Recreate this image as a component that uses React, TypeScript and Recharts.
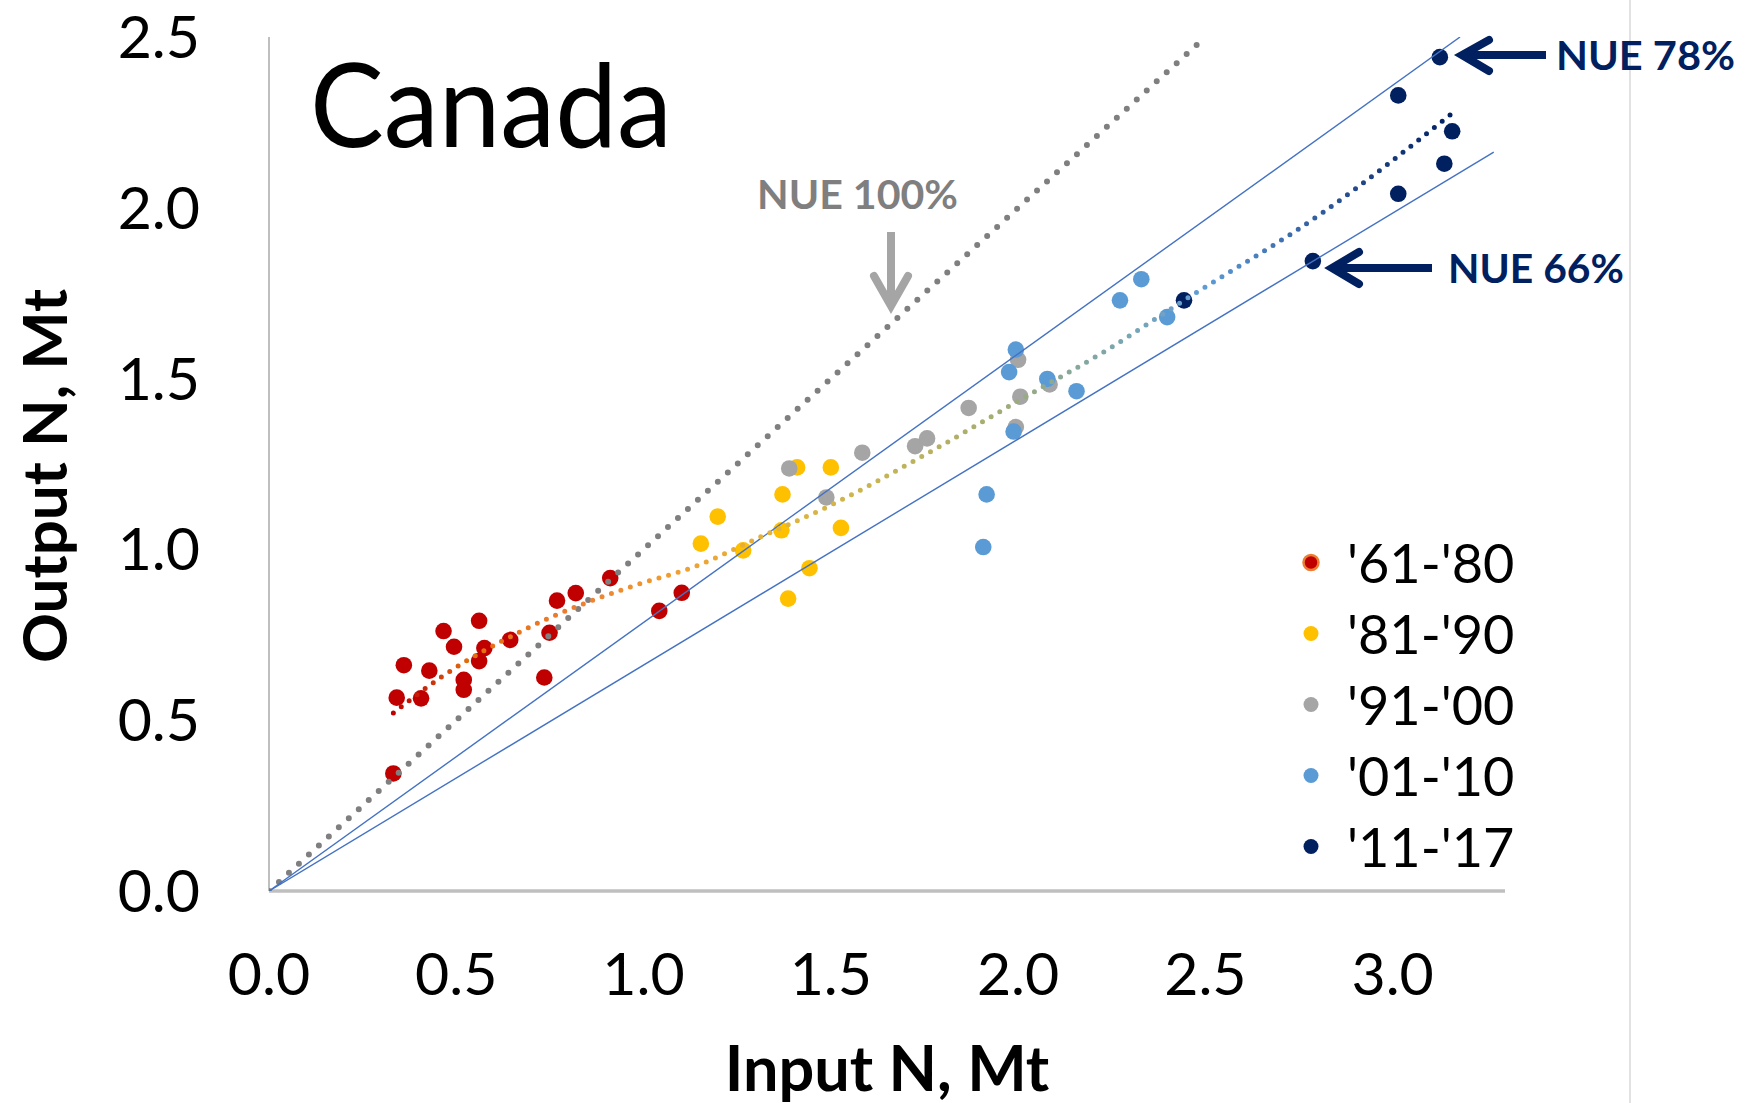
import React from 'react';
import { ScatterChart, Scatter, XAxis, YAxis, Legend, Label } from 'recharts';

// ---- axis ticks ----
const xTicks = [0, 0.5, 1, 1.5, 2, 2.5, 3];
const yTicks = [0, 0.5, 1, 1.5, 2, 2.5];

// ---- periods ----
const periodNames = ["'61-'80", "'81-'90", "'91-'00", "'01-'10", "'11-'17"];
const periodColors = ['#C00000', '#FFC000', '#A5A5A5', '#5B9BD5', '#002060'];

// ---- Input N (Mt) / Output N (Mt) per period ----
const input6180 = [0.332, 0.341, 0.360, 0.406, 0.428, 0.466, 0.494, 0.520, 0.520, 0.561, 0.561, 0.575, 0.644, 0.735, 0.749, 0.769, 0.819, 0.911, 1.042, 1.102];
const output6180 = [0.344, 0.566, 0.661, 0.564, 0.645, 0.761, 0.715, 0.618, 0.589, 0.791, 0.673, 0.711, 0.735, 0.625, 0.756, 0.850, 0.872, 0.916, 0.820, 0.873];

const input8190 = [1.153, 1.198, 1.266, 1.371, 1.368, 1.386, 1.410, 1.443, 1.500, 1.527];
const output8190 = [1.017, 1.096, 0.997, 1.161, 1.056, 0.856, 1.240, 0.945, 1.240, 1.063];

const input9100 = [1.389, 1.488, 1.584, 1.725, 1.757, 1.868, 2.000, 2.006, 1.994, 2.084];
const output9100 = [1.237, 1.152, 1.283, 1.302, 1.325, 1.414, 1.555, 1.447, 1.358, 1.483];

const input0110 = [1.916, 1.907, 1.976, 1.994, 1.988, 2.078, 2.156, 2.272, 2.329, 2.398];
const output0110 = [1.161, 1.007, 1.519, 1.585, 1.345, 1.499, 1.463, 1.729, 1.791, 1.680];

const input1117 = [2.443, 2.787, 3.015, 3.138, 3.159, 3.015, 3.126];
const output1117 = [1.729, 1.844, 2.041, 2.129, 2.224, 2.329, 2.441];

// ---- trend line ----
const trendInput = [0.332, 0.461, 0.689, 0.980, 1.135, 1.313, 1.482, 1.758, 2.004, 2.236, 2.443, 2.816, 3.159];
const trendOutput = [0.521, 0.627, 0.769, 0.896, 0.949, 1.037, 1.120, 1.281, 1.437, 1.583, 1.729, 1.988, 2.277];

// ---- NUE reference lines ----
const nue100Input = [0, 2.5];
const nue100Output = [0, 2.5];
const nue78Input = [0, 3.18];
const nue78Output = [0, 2.5];
const nue66Input = [0, 3.27];
const nue66Output = [0, 2.163];

const zip = (xs: number[], ys: number[]) => xs.map((x, i) => ({ x, y: ys[i] }));

const periodData = [
  zip(input6180, output6180),
  zip(input8190, output8190),
  zip(input9100, output9100),
  zip(input0110, output0110),
  zip(input1117, output1117),
];

const FONT = 'Lato';

const noShape = () => <g />;

const makeDot = (color: string) => (p: any) => (
  <circle cx={p.cx} cy={p.cy} r={8.3} fill={color} />
);

const renderLegend = (props: any) => {
  const payload = (props.payload || [])
    .filter((e: any) => periodNames.includes(e.value))
    .slice()
    .sort((a: any, b: any) => periodNames.indexOf(a.value) - periodNames.indexOf(b.value));
  return (
    <div style={{ fontFamily: FONT, fontSize: 54, color: '#000' }}>
      {payload.map((e: any, i: number) => {
        const first = e.value === periodNames[0];
        return (
          <div key={i} style={{ display: 'flex', alignItems: 'center', height: 71, lineHeight: '71px' }}>
            <svg width={42} height={71} style={{ display: 'block' }}>
              <circle
                cx={21}
                cy={35.5}
                r={7.5}
                fill={e.color}
                stroke={first ? '#ED7D31' : 'none'}
                strokeWidth={first ? 2.5 : 0}
              />
            </svg>
            <span style={{ marginLeft: 15, whiteSpace: 'nowrap' }}>{e.value}</span>
          </div>
        );
      })}
    </div>
  );
};

export default function App() {
  return (
    <div style={{ position: 'absolute', left: 0, top: 0, width: 1757, height: 1103, background: '#fff' }}>
      <svg width={0} height={0} style={{ position: 'absolute' }}>
        <defs>
          <linearGradient id="trendGrad" x1="0" y1="0" x2="1" y2="0">
            <stop offset="0" stopColor="#C00000" />
            <stop offset="0.03" stopColor="#C8260A" />
            <stop offset="0.07" stopColor="#E46C0A" />
            <stop offset="0.17" stopColor="#ED7D31" />
            <stop offset="0.27" stopColor="#F0A030" />
            <stop offset="0.36" stopColor="#E3B43A" />
            <stop offset="0.45" stopColor="#C9B550" />
            <stop offset="0.555" stopColor="#A8AE6E" />
            <stop offset="0.643" stopColor="#86A89A" />
            <stop offset="0.73" stopColor="#6FA2C6" />
            <stop offset="0.77" stopColor="#5B9BD5" />
            <stop offset="0.855" stopColor="#3A67A8" />
            <stop offset="0.93" stopColor="#1A3E80" />
            <stop offset="1" stopColor="#002060" />
          </linearGradient>
        </defs>
      </svg>
      <ScatterChart
        width={1757}
        height={1103}
        margin={{ top: 37, right: 252, bottom: 0, left: 69 }}
      >
        <XAxis
          type="number"
          dataKey="x"
          domain={[0, 3.3]}
          ticks={xTicks}
          allowDataOverflow
          tickFormatter={(v: number) => v.toFixed(1)}
          tickLine={false}
          tickSize={0}
          tickMargin={62}
          height={212}
          axisLine={{ stroke: '#BFBFBF', strokeWidth: 3.5 }}
          tick={{ fill: '#000', fontSize: 59, fontFamily: FONT }}
        >
          <Label
            value="Input N, Mt"
            position="insideBottom"
            offset={12}
            style={{ fontFamily: FONT, fontWeight: 700, fontSize: 63, fill: '#000' }}
          />
        </XAxis>
        <YAxis
          type="number"
          dataKey="y"
          domain={[0, 2.5]}
          ticks={yTicks}
          allowDataOverflow
          tickFormatter={(v: number) => v.toFixed(1)}
          tickLine={false}
          tickSize={0}
          tickMargin={69}
          width={200}
          axisLine={{ stroke: '#BFBFBF', strokeWidth: 2 }}
          tick={{ fill: '#000', fontSize: 59, fontFamily: FONT }}
        >
          <Label
            content={() => (
              <text
                transform="translate(67,476) rotate(-90)"
                textAnchor="middle"
                style={{ fontFamily: FONT, fontWeight: 700, fontSize: 62, fill: '#000' }}
              >
                Output N, Mt
              </text>
            )}
          />
        </YAxis>
        <Legend
          layout="horizontal"
          align="center"
          verticalAlign="middle"
          wrapperStyle={{ left: 1290, top: 527, width: 300 }}
          content={renderLegend}
        />

        {periodNames.map((name, i) => (
          <Scatter
            key={name}
            name={name}
            data={periodData[i]}
            fill={periodColors[i]}
            shape={makeDot(periodColors[i])}
            isAnimationActive={false}
          />
        ))}

        <Scatter
          name="NUE 100%"
          legendType="none"
          data={zip(nue100Input, nue100Output)}
          fill="#7F7F7F"
          shape={noShape}
          line={{ stroke: '#7F7F7F', strokeWidth: 6, strokeDasharray: '0 13.5', strokeLinecap: 'round' }}
          isAnimationActive={false}
        />
        <Scatter
          name="NUE 78%"
          legendType="none"
          data={zip(nue78Input, nue78Output)}
          fill="#4472C4"
          shape={noShape}
          line={{ stroke: '#4472C4', strokeWidth: 1.4 }}
          isAnimationActive={false}
        />
        <Scatter
          name="NUE 66%"
          legendType="none"
          data={zip(nue66Input, nue66Output)}
          fill="#4472C4"
          shape={noShape}
          line={{ stroke: '#4472C4', strokeWidth: 1.4 }}
          isAnimationActive={false}
        />
        <Scatter
          name="Trend"
          legendType="none"
          data={zip(trendInput, trendOutput)}
          fill="#ED7D31"
          shape={noShape}
          lineJointType="monotoneX"
          line={{ stroke: 'url(#trendGrad)', strokeWidth: 5, strokeDasharray: '0 10', strokeLinecap: 'round' }}
          isAnimationActive={false}
        />
      </ScatterChart>

      <svg
        width={1757}
        height={1103}
        style={{ position: 'absolute', left: 0, top: 0, pointerEvents: 'none' }}
      >
        <line x1={1630} y1={0} x2={1630} y2={1103} stroke="#D9D9D9" strokeWidth={1.5} />
        <text x={310} y={147} textLength={362} lengthAdjust="spacingAndGlyphs"
          style={{ fontFamily: FONT, fontSize: 117, fill: '#000' }}>Canada</text>

        <text x={757} y={209} textLength={201} lengthAdjust="spacingAndGlyphs"
          style={{ fontFamily: FONT, fontWeight: 700, fontSize: 40, fill: '#7F7F7F' }}>NUE 100%</text>
        <line x1={891} y1={232} x2={891} y2={304} stroke="#A5A5A5" strokeWidth={8} />
        <polyline points="874,276 891,306 908,276" fill="none" stroke="#A5A5A5" strokeWidth={8} strokeLinecap="round" />

        <text x={1556} y={70} textLength={179} lengthAdjust="spacingAndGlyphs"
          style={{ fontFamily: FONT, fontWeight: 700, fontSize: 40, fill: '#002060' }}>NUE 78%</text>
        <line x1={1464} y1={55} x2={1546} y2={55} stroke="#002060" strokeWidth={8} />
        <polyline points="1489,40 1462,55 1489,71" fill="none" stroke="#002060" strokeWidth={8} strokeLinecap="round" />

        <text x={1448} y={283} textLength={176} lengthAdjust="spacingAndGlyphs"
          style={{ fontFamily: FONT, fontWeight: 700, fontSize: 40, fill: '#002060' }}>NUE 66%</text>
        <line x1={1334} y1={268} x2={1432} y2={268} stroke="#002060" strokeWidth={8} />
        <polyline points="1359,252 1332,268 1359,284" fill="none" stroke="#002060" strokeWidth={8} strokeLinecap="round" />
      </svg>
    </div>
  );
}
